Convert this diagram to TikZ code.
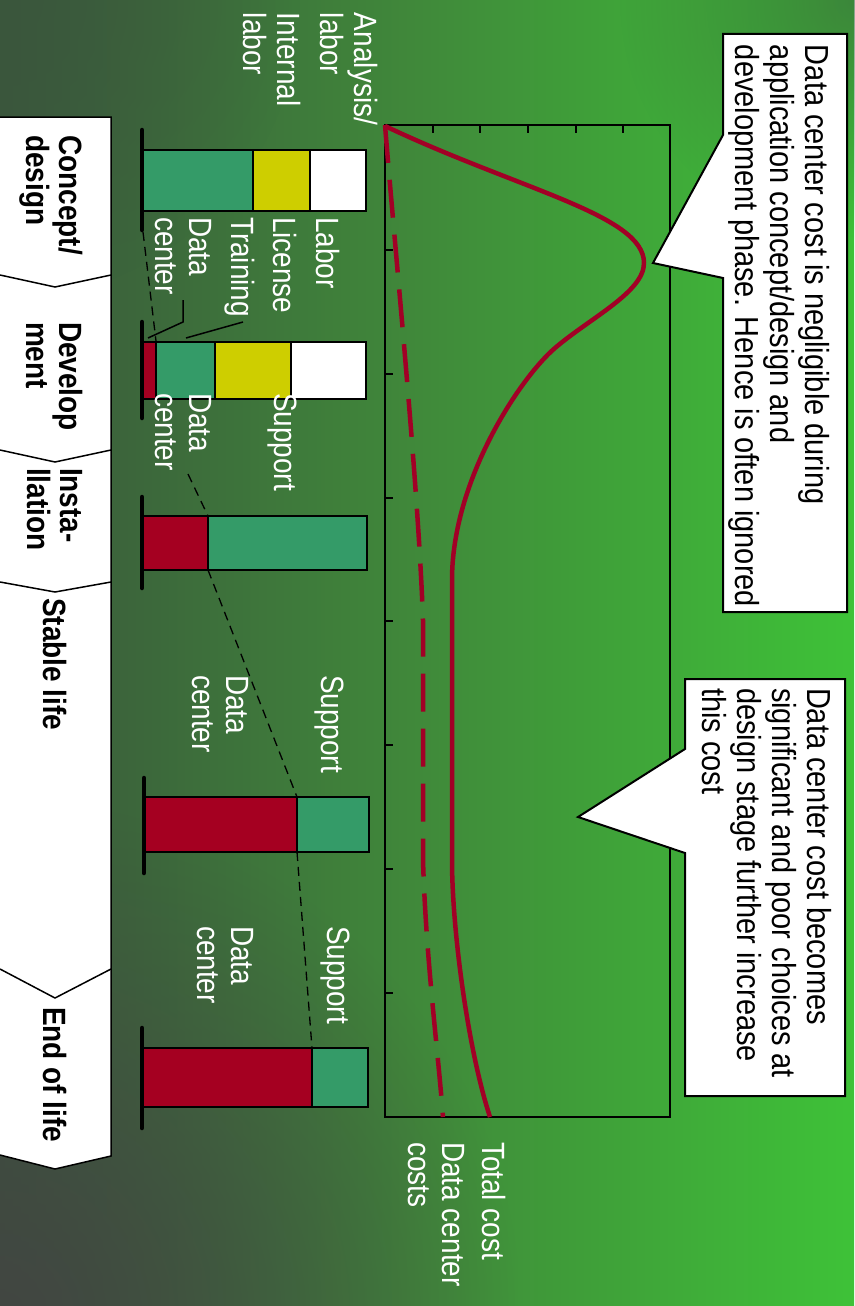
\documentclass[tikz,border=0pt]{standalone}
\usepackage{fontspec}
\setmainfont{Liberation Sans}
\usetikzlibrary{fadings}
\definecolor{bgdark}{RGB}{58,86,60}
\definecolor{bgmid}{RGB}{64,138,58}
\definecolor{bglight}{RGB}{62,194,56}
\definecolor{bgcorner}{RGB}{66,70,66}
\definecolor{costred}{RGB}{162,0,38}
\definecolor{barred}{RGB}{165,0,33}
\definecolor{bargreen}{RGB}{52,155,104}
\definecolor{baryellow}{RGB}{206,206,0}
\tikzfading[name=cornerfade, inner color=transparent!0, outer color=transparent!100]
\begin{document}
\begin{tikzpicture}[x=1pt,y=-1pt,
  vtext/.style={cm={0,-1,1.15,0,(0,0)}, inner sep=0pt, outer sep=0pt,
    anchor=north west, align=left, font=\fontsize{28}{29.5}\selectfont},
  wlabel/.style={vtext, text=white},
  phaselabel/.style={vtext, text=black, font=\bfseries\fontsize{28}{29}\selectfont},
  notetext/.style={vtext, text=black, font=\fontsize{29}{30.4}\selectfont},
  barseg/.style={draw=black, line width=1.5pt},
  barbase/.style={draw=black, line width=4.5pt, line cap=round},
  costline/.style={draw=costred, line width=4.5pt, line join=round},
  dccost/.style={costline, dash pattern=on 38pt off 17pt},
  guide/.style={draw=black, line width=1.3pt, dash pattern=on 9pt off 6pt},
  leader/.style={draw=black, line width=1.5pt},
  callout/.style={fill=white, draw=black, line width=2pt, line join=miter},
  bandline/.style={draw=black, line width=1.5pt},
  axisline/.style={draw=black, line width=1.2pt}
]
\useasboundingbox (0,0) rectangle (854,1306);

% background
\shade[left color=bgdark, right color=bglight, middle color=bgmid] (0,0) rectangle (854,1306);
\fill[bgcorner, path fading=cornerfade] (-520,800) rectangle (520,1840);
\fill[bgdark, path fading=cornerfade, opacity=0.7] (-300,-300) rectangle (300,300);
\fill[bgdark, path fading=cornerfade, opacity=0.55] (620,-240) rectangle (1090,240);

% lifecycle phase band
\fill[white] (0,117) -- (111,117) -- (111,1156) -- (55,1169) -- (0,1155) -- cycle;
\draw[bandline] (0,117) -- (111,117) -- (111,1156) -- (55,1169) -- (0,1155);
\foreach \ya/\yb in {275/287, 450/462, 582/592, 969/998}
  \draw[bandline] (0,\ya) -- (55,\yb) -- (111,\ya);

\node[phaselabel] (ph1) at (83,135) {Concept/\\design};
\node[phaselabel] (ph2) at (83,322) {Develop\\ment};
\node[phaselabel] (ph3) at (83,468) {Insta-\\llation};
\node[phaselabel] (ph4) at (67,598) {Stable life};
\node[phaselabel] (ph5) at (67,1007) {End of life};

% bar 1: concept/design
\filldraw[barseg, fill=bargreen]  (143,150) rectangle (253,211);
\filldraw[barseg, fill=baryellow] (253,150) rectangle (310,211);
\filldraw[barseg, fill=white]     (310,150) rectangle (366,211);
\draw[barbase] (142,130) -- (142,230);

% bar 2: development
\filldraw[barseg, fill=barred]    (143,342) rectangle (156,399);
\filldraw[barseg, fill=bargreen]  (156,342) rectangle (215,399);
\filldraw[barseg, fill=baryellow] (215,342) rectangle (291,399);
\filldraw[barseg, fill=white]     (291,342) rectangle (366,399);
\draw[barbase] (142,322) -- (142,418);

% bar 3: installation
\filldraw[barseg, fill=barred]   (143,516) rectangle (208,570);
\filldraw[barseg, fill=bargreen] (208,516) rectangle (367,570);
\draw[barbase] (142,497) -- (142,588);

% bar 4: stable life
\filldraw[barseg, fill=barred]   (145,797) rectangle (297,852);
\filldraw[barseg, fill=bargreen] (297,797) rectangle (369,852);
\draw[barbase] (144,778) -- (144,873);

% bar 5: end of life
\filldraw[barseg, fill=barred]   (143,1048) rectangle (312,1107);
\filldraw[barseg, fill=bargreen] (312,1048) rectangle (368,1107);
\draw[barbase] (142,1028) -- (142,1128);

% dashed guides following the data center share
\coordinate (g1a) at (143,232);  \coordinate (g1b) at (156,341);
\coordinate (g2a) at (188,474);  \coordinate (g2b) at (208,516);
\coordinate (g3a) at (208,570);  \coordinate (g3b) at (297,797);
\coordinate (g4a) at (297,852);  \coordinate (g4b) at (312,1048);
\draw[guide] (g1a) -- (g1b);
\draw[guide] (g2a) -- (g2b);
\draw[guide] (g3a) -- (g3b);
\draw[guide] (g4a) -- (g4b);

% leaders from the first legend to bar 2
\draw[leader] (183,300) -- (183,322) -- (148,338);
\draw[leader] (243,322) -- (186,338);

% segment labels
\node[wlabel] (lanalysis) at (378,13) {Analysis/\\labor};
\node[wlabel] (linternal) at (301,13) {Internal\\labor};

\node[wlabel] (b1labor)   at (340,217) {Labor};
\node[wlabel] (b1license) at (297,217) {License};
\node[wlabel] (b1train)   at (255,217) {Training};
\node[wlabel] (b1dc)      at (212,217) {Data\\center};

\node[wlabel] (b2support) at (297,393) {Support};
\node[wlabel] (b2dc)      at (212,393) {Data\\center};

\node[wlabel] (b4support) at (344,675) {Support};
\node[wlabel] (b4dc)      at (249,675) {Data\\center};

\node[wlabel] (b5support) at (350,926) {Support};
\node[wlabel] (b5dc)      at (254,926) {Data\\center};

% cost chart frame and ticks
\draw[axisline] (385,125) rectangle (670,1117);
\foreach \t in {250,374,498,621,745,869,993}
  \draw[axisline] (385,\t) -- (393,\t);
\foreach \t in {433,480,528,576,623}
  \draw[axisline] (\t,125) -- (\t,133);

% total cost curve
\coordinate (tc0) at (385,126);
\coordinate (tcpeak) at (644,263);
\coordinate (tcend) at (490,1117);
\draw[costline] (tc0) .. controls (520,190) and (644,215) .. (tcpeak)
  .. controls (644,292) and (590,318) .. (555,348)
  .. controls (520,378) and (452,480) .. (452,580)
  -- (452,860)
  .. controls (452,930) and (468,1050) .. (tcend);

% data center cost curve
\coordinate (dc0) at (385,125);
\coordinate (dcend) at (443,1117);
\draw[dccost] (dc0) .. controls (395,250) and (418,480) .. (423,620)
  -- (423,860)
  .. controls (426,960) and (438,1050) .. (dcend);

\node[wlabel] (ltotal) at (506,1142) {Total cost};
\node[wlabel] (ldc)    at (465,1142) {Data center\\costs};

% callouts
\draw[callout] (723,34) -- (847,34) -- (847,612) -- (723,612) -- (723,278)
  -- (653,263) -- (723,135) -- cycle;
\node[notetext] (note1) at (830,45)
  {Data center cost is negligible during\\application concept/design and\\development phase. Hence is often ignored};

\draw[callout] (685,679) -- (845,679) -- (845,1096) -- (685,1096) -- (685,853)
  -- (578,817) -- (685,749) -- cycle;
\node[notetext] (note2) at (832,688)
  {Data center cost becomes\\significant and poor choices at\\design stage further increase\\this cost};
\end{tikzpicture}
\end{document}
